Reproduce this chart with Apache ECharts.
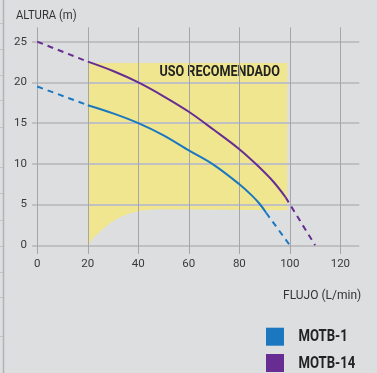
<!DOCTYPE html>
<html>
<head>
<meta charset="utf-8">
<script src="https://cdn.jsdelivr.net/npm/echarts@6/dist/echarts.min.js"></script>
<style>
  html, body { margin: 0; padding: 0; background: #dddee0; }
  #chart { width: 377px; height: 373px; }
</style>
</head>
<body>
<div id="chart"></div>
<script>
// Axis ticks
const flowTicks = [0, 20, 40, 60, 80, 100, 120];
const headTicks = [0, 5, 10, 15, 20, 25];

// MOTB-1 pump curve: solid operating range plus dashed extensions
const motb1Flow = [20, 30, 40, 50, 60, 70, 80, 85, 88, 90.6];
const motb1Head = [17.2, 16.2, 15.0, 13.5, 11.65, 9.85, 7.5, 6.1, 5.1, 4.0];
const motb1LowFlow = [0, 20];
const motb1LowHead = [19.5, 17.2];
const motb1HighFlow = [90.6, 100];
const motb1HighHead = [4.0, 0];

// MOTB-14 pump curve
const motb14Flow = [20, 30, 40, 50, 60, 70, 80, 87, 93.5, 98.3];
const motb14Head = [22.55, 21.4, 20.0, 18.3, 16.4, 14.15, 11.8, 9.85, 7.8, 5.9];
const motb14LowFlow = [0, 20];
const motb14LowHead = [25, 22.55];
const motb14HighFlow = [98.3, 110];
const motb14HighHead = [5.9, 0];

// Recommended-use zone: flat ceiling, curved floor
const zoneFlow = [20, 22.1, 24.8, 28.7, 32.7, 36.7, 40.6, 44.6, 48.6, 99];
const zoneFloor = [0, 0.86, 1.67, 2.7, 3.44, 3.93, 4.21, 4.37, 4.42, 4.3];
const zoneCeiling = 22.4;
const zoneLabel = 'USO RECOMENDADO';

const seriesNames = ['MOTB-1', 'MOTB-14'];
const seriesColors = ['#1b77c0', '#672d92'];

const FONT = 'Roboto, "Liberation Sans", sans-serif';

function pairs(xs, ys) { return xs.map((x, i) => [x, ys[i]]); }

function curve(name, xs, ys, color, dashed) {
  return {
    type: 'line', name: name, data: pairs(xs, ys),
    symbol: 'none', showSymbol: false, silent: true,
    smooth: dashed ? false : 0.35, z: 3,
    itemStyle: { color: color },
    lineStyle: { color: color, width: 2, type: dashed ? [6, 5] : 'solid' }
  };
}

// condensed-looking text: regular face squeezed horizontally
function label(text, x, y, size, weight, scaleX, color) {
  return {
    type: 'text', x: x, y: y, scaleX: scaleX, silent: true,
    style: { text: text, font: weight + ' ' + size + 'px ' + FONT, fill: color,
             align: 'left', verticalAlign: 'middle' }
  };
}

const chart = echarts.init(document.getElementById('chart'), null, { renderer: 'canvas' });

// decorative page edge on the left
const edgeMarks = [23, 49, 75, 100, 127, 167, 193, 220, 246, 272, 297, 336];
let graphics = [
  { type: 'line', shape: { x1: 3.5, y1: 0, x2: 3.5, y2: 373 }, style: { stroke: '#b3b3b6', lineWidth: 1.5 }, silent: true }
].concat(edgeMarks.map(y => ({
  type: 'line', shape: { x1: 0, y1: y + 0.5, x2: 3, y2: y + 0.5 }, style: { stroke: '#c2c2c4', lineWidth: 1 }, silent: true
})));

// axis titles
graphics.push(label('ALTURA (m)', 16, 16, 12.5, 'normal', 0.9, '#333'));
graphics.push(label('FLUJO (L/min)', 283, 296, 12.5, 'normal', 0.96, '#333'));

// legend swatches and names
seriesNames.forEach((name, i) => {
  const top = 327.7 + i * 26.3;
  graphics.push({ type: 'rect', shape: { x: 266, y: top, width: 18, height: 18 },
                  style: { fill: seriesColors[i] }, silent: true });
  graphics.push(label(name, 298.5, top + 9.5, 16, 'bold', 0.82, '#222'));
});

chart.setOption({
  backgroundColor: '#dddee0',
  animation: false,
  graphic: graphics,
  grid: { left: 32, right: 17.7, top: 27.3, bottom: 119, containLabel: false },
  xAxis: {
    type: 'value', min: -2.1, max: 127.5,
    axisLine: { show: false, onZero: false },
    axisTick: { show: false, customValues: flowTicks },
    axisLabel: { customValues: flowTicks, margin: 4, fontFamily: FONT, fontSize: 11.5, color: '#3a3a3a' },
    splitLine: { show: true, lineStyle: { color: '#a6a6a8', width: 1 } }
  },
  yAxis: {
    type: 'value', min: -1.07, max: 26.77,
    axisLine: { show: false, onZero: false },
    axisTick: { show: false, customValues: headTicks },
    axisLabel: { customValues: headTicks, margin: 5, fontFamily: FONT, fontSize: 11.5, color: '#3a3a3a' },
    splitLine: { show: true, lineStyle: { color: '#c0c0c2', width: 1.8 } }
  },
  series: [
    {
      type: 'custom', silent: true, z: -1,
      data: [[0, 0]],
      renderItem: function (params, api) {
        const last = zoneFlow.length - 1;
        const pts = [api.coord([zoneFlow[0], zoneCeiling]), api.coord([zoneFlow[last], zoneCeiling])];
        for (let i = last; i >= 0; i--) pts.push(api.coord([zoneFlow[i], zoneFloor[i]]));
        const corner = api.coord([zoneFlow[last], zoneCeiling]);
        return {
          type: 'group',
          children: [
            { type: 'polygon', shape: { points: pts }, style: { fill: '#efe68f' } },
            { type: 'text', x: corner[0] - 7.5, y: corner[1] + 9.5, scaleX: 0.84,
              style: { text: zoneLabel, align: 'right', verticalAlign: 'middle',
                       font: 'bold 15px ' + FONT, fill: '#222' } }
          ]
        };
      }
    },
    curve(seriesNames[0], motb1Flow, motb1Head, seriesColors[0], false),
    curve(seriesNames[1], motb14Flow, motb14Head, seriesColors[1], false),
    curve(seriesNames[0], motb1LowFlow, motb1LowHead, seriesColors[0], true),
    curve(seriesNames[0], motb1HighFlow, motb1HighHead, seriesColors[0], true),
    curve(seriesNames[1], motb14LowFlow, motb14LowHead, seriesColors[1], true),
    curve(seriesNames[1], motb14HighFlow, motb14HighHead, seriesColors[1], true)
  ]
});
</script>
</body>
</html>
